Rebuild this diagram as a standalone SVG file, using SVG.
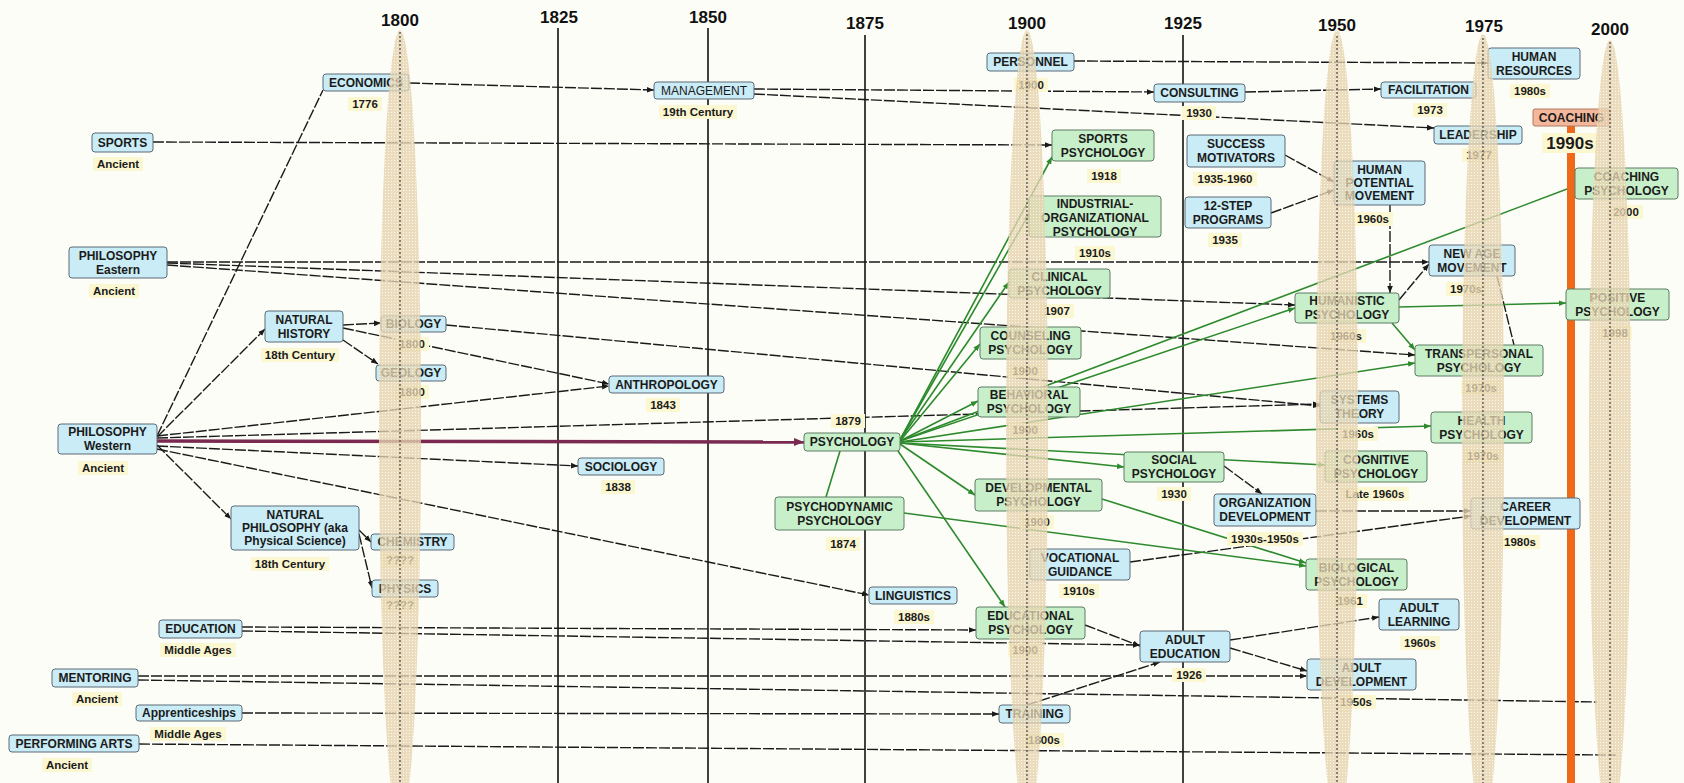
<svg xmlns="http://www.w3.org/2000/svg" width="1684" height="783" viewBox="0 0 1684 783">
<style>
.bg{fill:#fdfdf8}
.yr{font-family:"Liberation Sans",Arial,sans-serif;font-weight:bold;font-size:17px;fill:#111;text-anchor:middle}
.axis{stroke:#111;stroke-width:1.6}
.k{fill:none;stroke:#1a1a1a;stroke-width:1.4;stroke-dasharray:11 2}
.gr{fill:none;stroke:#2d8a2d;stroke-width:1.6}
.mr{fill:none;stroke:#7a2a50;stroke-width:3.5}
.b{fill:#c9ecf6;stroke:#5b6b78;stroke-width:1}
.g{fill:#c7efc9;stroke:#5c7c62;stroke-width:1}
.o{fill:#f3b79c;stroke:#b07a62;stroke-width:1}
.t{font-family:"Liberation Sans",Arial,sans-serif;font-weight:bold;font-size:12px;fill:#1b1b1b;text-anchor:middle}
.tn{font-weight:normal}
.dl{fill:#fbf7d0}
.dt{font-family:"Liberation Sans",Arial,sans-serif;font-weight:bold;font-size:11.5px;fill:#1b1b1b;text-anchor:middle}
.big{font-size:17px}
.band{fill:url(#dots);opacity:.78}
.bandline{stroke:#444;stroke-width:1.2;stroke-dasharray:2 2}
</style>
<defs>
<pattern id="dots" width="3" height="3" patternUnits="userSpaceOnUse">
<rect width="3" height="3" fill="#e6d3ae"/>
<rect x="1" y="1" width="1" height="1" fill="#fbf6ec"/>
</pattern>
<marker id="ak" viewBox="0 0 10 10" refX="10" refY="5" markerWidth="7" markerHeight="7" markerUnits="userSpaceOnUse" orient="auto"><path d="M0,1 L10,5 L0,9 z" fill="#1a1a1a"/></marker>
<marker id="ag" viewBox="0 0 10 10" refX="10" refY="5" markerWidth="7" markerHeight="7" markerUnits="userSpaceOnUse" orient="auto"><path d="M0,1 L10,5 L0,9 z" fill="#2d8a2d"/></marker>
<marker id="am" viewBox="0 0 10 10" refX="10" refY="5" markerWidth="10" markerHeight="10" markerUnits="userSpaceOnUse" orient="auto"><path d="M0,1 L10,5 L0,9 z" fill="#7a2a50"/></marker>
</defs>

<rect class="bg" width="1684" height="783"/>

<!-- time axis -->
<g id="axis">
<text class="yr" x="400" y="26">1800</text>
<text class="yr" x="559" y="23">1825</text>
<text class="yr" x="708" y="23">1850</text>
<text class="yr" x="865" y="29">1875</text>
<text class="yr" x="1027" y="29">1900</text>
<text class="yr" x="1183" y="29">1925</text>
<text class="yr" x="1337" y="31">1950</text>
<text class="yr" x="1484" y="32">1975</text>
<text class="yr" x="1610" y="35">2000</text>
<line class="axis" x1="558" y1="28" x2="558" y2="783"/>
<line class="axis" x1="708" y1="28" x2="708" y2="783"/>
<line class="axis" x1="865" y1="35" x2="865" y2="783"/>
<line class="axis" x1="1183" y1="35" x2="1183" y2="783"/>
</g>

<!-- connectors -->
<g id="connectors">
<path class="k" d="M157,436 L323,90"/>
<path class="k" d="M157,437 L265,329" marker-end="url(#ak)"/>
<path class="k" d="M157,445 L231,519" marker-end="url(#ak)"/>
<path class="k" d="M157,436 L609,386" marker-end="url(#ak)"/>
<path class="k" d="M157,438 L1320,404" marker-end="url(#ak)"/>
<path class="k" d="M157,446 L578,466" marker-end="url(#ak)"/>
<path class="k" d="M157,449 L869,595" marker-end="url(#ak)"/>
<path class="k" d="M167,262 L1429,262" marker-end="url(#ak)"/>
<path class="k" d="M167,263 L1295,305" marker-end="url(#ak)"/>
<path class="k" d="M167,265 L1415,355" marker-end="url(#ak)"/>
<path class="k" d="M153,142 L1052,145" marker-end="url(#ak)"/>
<path class="k" d="M409,83 L654,90" marker-end="url(#ak)"/>
<path class="k" d="M754,89 L1154,92" marker-end="url(#ak)"/>
<path class="k" d="M754,94 L1434,128" marker-end="url(#ak)"/>
<path class="k" d="M1245,92 L1381,89" marker-end="url(#ak)"/>
<path class="k" d="M1074,61 L1488,63" marker-end="url(#ak)"/>
<path class="k" d="M343,325 L381,323" marker-end="url(#ak)"/>
<path class="k" d="M343,340 L378,364" marker-end="url(#ak)"/>
<path class="k" d="M343,328 L609,384" marker-end="url(#ak)"/>
<path class="k" d="M446,325 L1320,406" marker-end="url(#ak)"/>
<path class="k" d="M359,530 L371,542" marker-end="url(#ak)"/>
<path class="k" d="M359,534 L372,588" marker-end="url(#ak)"/>
<path class="k" d="M242,627 L976,630" marker-end="url(#ak)"/>
<path class="k" d="M242,631 L1140,645" marker-end="url(#ak)"/>
<path class="k" d="M1085,625 L1140,646" marker-end="url(#ak)"/>
<path class="k" d="M138,676 L1307,676" marker-end="url(#ak)"/>
<path class="k" d="M138,680 L1597,702"/>
<path class="k" d="M242,713 L999,714" marker-end="url(#ak)"/>
<path class="k" d="M139,744 L1616,755"/>
<path class="k" d="M1027,705 L1160,662" marker-end="url(#ak)"/>
<path class="k" d="M1230,640 L1379,617" marker-end="url(#ak)"/>
<path class="k" d="M1230,648 L1307,671" marker-end="url(#ak)"/>
<path class="k" d="M1130,562 L1471,516" marker-end="url(#ak)"/>
<path class="k" d="M1316,511 L1471,511" marker-end="url(#ak)"/>
<path class="k" d="M1224,466 L1262,494" marker-end="url(#ak)"/>
<path class="k" d="M1285,155 L1334,182" marker-end="url(#ak)"/>
<path class="k" d="M1271,213 L1334,190" marker-end="url(#ak)"/>
<path class="k" d="M1390,205 L1390,293" marker-end="url(#ak)"/>
<path class="k" d="M1399,300 L1429,264" marker-end="url(#ak)"/>
<path class="k" d="M1497,276 L1514,345"/>
<path class="mr" d="M157,441 L804,442" marker-end="url(#am)"/>
<path class="gr" d="M900,440 L1052,157" marker-end="url(#ag)"/>
<path class="gr" d="M900,440 L1029,214" marker-end="url(#ag)"/>
<path class="gr" d="M900,440 L1009,282" marker-end="url(#ag)"/>
<path class="gr" d="M900,441 L980,344" marker-end="url(#ag)"/>
<path class="gr" d="M900,441 L978,401" marker-end="url(#ag)"/>
<path class="gr" d="M900,441 L1575,186" marker-end="url(#ag)"/>
<path class="gr" d="M900,441 L1295,308" marker-end="url(#ag)"/>
<path class="gr" d="M900,442 L1415,363" marker-end="url(#ag)"/>
<path class="gr" d="M900,442 L1431,426" marker-end="url(#ag)"/>
<path class="gr" d="M900,443 L1325,465" marker-end="url(#ag)"/>
<path class="gr" d="M900,443 L1124,467" marker-end="url(#ag)"/>
<path class="gr" d="M900,444 L975,495" marker-end="url(#ag)"/>
<path class="gr" d="M898,451 L1005,607" marker-end="url(#ag)"/>
<path class="gr" d="M840,451 L826,497"/>
<path class="gr" d="M904,513 L1306,566" marker-end="url(#ag)"/>
<path class="gr" d="M1102,499 L1306,563" marker-end="url(#ag)"/>
<path class="gr" d="M1399,307 L1566,303" marker-end="url(#ag)"/>
<path class="gr" d="M1392,323 L1415,350" marker-end="url(#ag)"/>
</g>

<!-- coaching emergence bar -->
<g id="coaching-bar">
<rect x="1567" y="126" width="8" height="8" fill="#ee6a1a"/>
<rect x="1567" y="152" width="8" height="631" fill="#ee6a1a"/>
</g>

<!-- nodes -->
<g id="n-economics"><rect class="b" x="323" y="74" width="86" height="17" rx="3"/><text class="t" x="366" y="86.8">ECONOMICS</text><rect class="dl" x="348" y="97" width="34" height="14"/><text class="dt" x="365" y="108">1776</text></g>
<g id="n-sports"><rect class="b" x="92" y="133" width="61" height="19" rx="3"/><text class="t" x="122.5" y="146.8">SPORTS</text><rect class="dl" x="93" y="157" width="50" height="14"/><text class="dt" x="118" y="168">Ancient</text></g>
<g id="n-philosophy-eastern"><rect class="b" x="69" y="247" width="98" height="31" rx="3"/><text class="t" x="118" y="259.8">PHILOSOPHY<tspan x="118" dy="14">Eastern</tspan></text><rect class="dl" x="89" y="284" width="50" height="14"/><text class="dt" x="114" y="295">Ancient</text></g>
<g id="n-natural-history"><rect class="b" x="265" y="311" width="78" height="31" rx="3"/><text class="t" x="304" y="323.8">NATURAL<tspan x="304" dy="14">HISTORY</tspan></text><rect class="dl" x="261" y="348" width="78" height="14"/><text class="dt" x="300" y="359">18th Century</text></g>
<g id="n-biology"><rect class="b" x="381" y="316" width="65" height="16" rx="3"/><text class="t" x="413.5" y="328.3">BIOLOGY</text><rect class="dl" x="395" y="337" width="34" height="14"/><text class="dt" x="412" y="348">1800</text></g>
<g id="n-geology"><rect class="b" x="376" y="365" width="70" height="16" rx="3"/><text class="t" x="411" y="377.3">GEOLOGY</text><rect class="dl" x="395" y="385" width="34" height="14"/><text class="dt" x="412" y="396">1800</text></g>
<g id="n-philosophy-western"><rect class="b" x="58" y="424" width="99" height="30" rx="3"/><text class="t" x="107.5" y="436.3">PHILOSOPHY<tspan x="107.5" dy="14">Western</tspan></text><rect class="dl" x="78" y="461" width="50" height="14"/><text class="dt" x="103" y="472">Ancient</text></g>
<g id="n-anthropology"><rect class="b" x="609" y="376" width="115" height="17" rx="3"/><text class="t" x="666.5" y="388.8">ANTHROPOLOGY</text><rect class="dl" x="646" y="398" width="34" height="14"/><text class="dt" x="663" y="409">1843</text></g>
<g id="n-sociology"><rect class="b" x="578" y="458" width="86" height="17" rx="3"/><text class="t" x="621" y="470.8">SOCIOLOGY</text><rect class="dl" x="601" y="480" width="34" height="14"/><text class="dt" x="618" y="491">1838</text></g>
<g id="n-natural-philosophy"><rect class="b" x="231" y="506" width="128" height="44" rx="3"/><text class="t" x="295" y="519.3">NATURAL<tspan x="295" dy="13">PHILOSOPHY (aka</tspan><tspan x="295" dy="13">Physical Science)</tspan></text><rect class="dl" x="251" y="557" width="78" height="14"/><text class="dt" x="290" y="568">18th Century</text></g>
<g id="n-chemistry"><rect class="b" x="371" y="534" width="83" height="16" rx="3"/><text class="t" x="412.5" y="546.3">CHEMISTRY</text><rect class="dl" x="382" y="553" width="36" height="14"/><text class="dt" x="400" y="564">????</text></g>
<g id="n-physics"><rect class="b" x="372" y="580" width="66" height="17" rx="3"/><text class="t" x="405" y="592.8">PHYSICS</text><rect class="dl" x="382" y="598" width="36" height="14"/><text class="dt" x="400" y="609">????</text></g>
<g id="n-education"><rect class="b" x="159" y="620" width="83" height="18" rx="3"/><text class="t" x="200.5" y="633.3">EDUCATION</text><rect class="dl" x="160" y="643" width="76" height="14"/><text class="dt" x="198" y="654">Middle Ages</text></g>
<g id="n-mentoring"><rect class="b" x="52" y="669" width="86" height="18" rx="3"/><text class="t" x="95" y="682.3">MENTORING</text><rect class="dl" x="72" y="692" width="50" height="14"/><text class="dt" x="97" y="703">Ancient</text></g>
<g id="n-apprenticeships"><rect class="b" x="136" y="705" width="106" height="16" rx="3"/><text class="t" x="189" y="717.3">Apprenticeships</text><rect class="dl" x="150" y="727" width="76" height="14"/><text class="dt" x="188" y="738">Middle Ages</text></g>
<g id="n-performing-arts"><rect class="b" x="9" y="735" width="130" height="17" rx="3"/><text class="t" x="74" y="747.8">PERFORMING ARTS</text><rect class="dl" x="42" y="758" width="50" height="14"/><text class="dt" x="67" y="769">Ancient</text></g>
<g id="n-management"><rect class="b" x="654" y="82" width="100" height="17" rx="3"/><text class="t tn" x="704" y="94.8">MANAGEMENT</text><rect class="dl" x="659" y="105" width="78" height="14"/><text class="dt" x="698" y="116">19th Century</text></g>
<g id="n-personnel"><rect class="b" x="987" y="53" width="87" height="18" rx="3"/><text class="t" x="1030.5" y="66.3">PERSONNEL</text><rect class="dl" x="1014" y="78" width="34" height="14"/><text class="dt" x="1031" y="89">1900</text></g>
<g id="n-consulting"><rect class="b" x="1154" y="84" width="91" height="18" rx="3"/><text class="t" x="1199.5" y="97.3">CONSULTING</text><rect class="dl" x="1182" y="106" width="34" height="14"/><text class="dt" x="1199" y="117">1930</text></g>
<g id="n-success-motivators"><rect class="b" x="1187" y="135" width="98" height="32" rx="3"/><text class="t" x="1236" y="148.3">SUCCESS<tspan x="1236" dy="14">MOTIVATORS</tspan></text><rect class="dl" x="1193" y="172" width="64" height="14"/><text class="dt" x="1225" y="183">1935-1960</text></g>
<g id="n-12-step"><rect class="b" x="1185" y="197" width="86" height="31" rx="3"/><text class="t" x="1228" y="209.8">12-STEP<tspan x="1228" dy="14">PROGRAMS</tspan></text><rect class="dl" x="1208" y="233" width="34" height="14"/><text class="dt" x="1225" y="244">1935</text></g>
<g id="n-human-resources"><rect class="b" x="1488" y="48" width="92" height="31" rx="3"/><text class="t" x="1534" y="60.8">HUMAN<tspan x="1534" dy="14">RESOURCES</tspan></text><rect class="dl" x="1510" y="84" width="40" height="14"/><text class="dt" x="1530" y="95">1980s</text></g>
<g id="n-facilitation"><rect class="b" x="1381" y="82" width="95" height="16" rx="3"/><text class="t" x="1428.5" y="94.3">FACILITATION</text><rect class="dl" x="1413" y="103" width="34" height="14"/><text class="dt" x="1430" y="114">1973</text></g>
<g id="n-leadership"><rect class="b" x="1434" y="126" width="88" height="18" rx="3"/><text class="t" x="1478" y="139.3">LEADERSHIP</text><rect class="dl" x="1462" y="148" width="34" height="14"/><text class="dt" x="1479" y="159">1977</text></g>
<g id="n-human-potential"><rect class="b" x="1334" y="161" width="91" height="44" rx="3"/><text class="t" x="1379.5" y="174.3">HUMAN<tspan x="1379.5" dy="13">POTENTIAL</tspan><tspan x="1379.5" dy="13">MOVEMENT</tspan></text><rect class="dl" x="1353" y="212" width="40" height="14"/><text class="dt" x="1373" y="223">1960s</text></g>
<g id="n-new-age"><rect class="b" x="1429" y="245" width="86" height="31" rx="3"/><text class="t" x="1472" y="257.8">NEW AGE<tspan x="1472" dy="14">MOVEMENT</tspan></text><rect class="dl" x="1446" y="282" width="40" height="14"/><text class="dt" x="1466" y="293">1970s</text></g>
<g id="n-systems-theory"><rect class="b" x="1320" y="391" width="79" height="32" rx="3"/><text class="t" x="1359.5" y="404.3">SYSTEMS<tspan x="1359.5" dy="14">THEORY</tspan></text><rect class="dl" x="1338" y="427" width="40" height="14"/><text class="dt" x="1358" y="438">1960s</text></g>
<g id="n-org-development"><rect class="b" x="1214" y="494" width="102" height="32" rx="3"/><text class="t" x="1265" y="507.3">ORGANIZATION<tspan x="1265" dy="14">DEVELOPMENT</tspan></text><rect class="dl" x="1227" y="532" width="76" height="14"/><text class="dt" x="1265" y="543">1930s-1950s</text></g>
<g id="n-career-development"><rect class="b" x="1471" y="498" width="109" height="31" rx="3"/><text class="t" x="1525.5" y="510.8">CAREER<tspan x="1525.5" dy="14">DEVELOPMENT</tspan></text><rect class="dl" x="1500" y="535" width="40" height="14"/><text class="dt" x="1520" y="546">1980s</text></g>
<g id="n-linguistics"><rect class="b" x="869" y="587" width="88" height="17" rx="3"/><text class="t" x="913" y="599.8">LINGUISTICS</text><rect class="dl" x="894" y="610" width="40" height="14"/><text class="dt" x="914" y="621">1880s</text></g>
<g id="n-vocational-guidance"><rect class="b" x="1030" y="549" width="100" height="31" rx="3"/><text class="t" x="1080" y="561.8">VOCATIONAL<tspan x="1080" dy="14">GUIDANCE</tspan></text><rect class="dl" x="1059" y="584" width="40" height="14"/><text class="dt" x="1079" y="595">1910s</text></g>
<g id="n-adult-education"><rect class="b" x="1140" y="631" width="90" height="31" rx="3"/><text class="t" x="1185" y="643.8">ADULT<tspan x="1185" dy="14">EDUCATION</tspan></text><rect class="dl" x="1172" y="668" width="34" height="14"/><text class="dt" x="1189" y="679">1926</text></g>
<g id="n-training"><rect class="b" x="999" y="705" width="71" height="18" rx="3"/><text class="t" x="1034.5" y="718.3">TRAINING</text><rect class="dl" x="1024" y="733" width="40" height="14"/><text class="dt" x="1044" y="744">1800s</text></g>
<g id="n-adult-learning"><rect class="b" x="1379" y="599" width="80" height="31" rx="3"/><text class="t" x="1419" y="611.8">ADULT<tspan x="1419" dy="14">LEARNING</tspan></text><rect class="dl" x="1400" y="636" width="40" height="14"/><text class="dt" x="1420" y="647">1960s</text></g>
<g id="n-adult-development"><rect class="b" x="1307" y="659" width="109" height="31" rx="3"/><text class="t" x="1361.5" y="671.8">ADULT<tspan x="1361.5" dy="14">DEVELOPMENT</tspan></text><rect class="dl" x="1336" y="695" width="40" height="14"/><text class="dt" x="1356" y="706">1950s</text></g>

<g id="n-sports-psychology"><rect class="g" x="1052" y="130" width="102" height="31" rx="3"/><text class="t" x="1103" y="142.8">SPORTS<tspan x="1103" dy="14">PSYCHOLOGY</tspan></text><rect class="dl" x="1087" y="169" width="34" height="14"/><text class="dt" x="1104" y="180">1918</text></g>
<g id="n-io-psychology"><rect class="g" x="1029" y="196" width="132" height="41" rx="3"/><text class="t" x="1095" y="207.5">INDUSTRIAL-<tspan x="1095" dy="14">ORGANIZATIONAL</tspan><tspan x="1095" dy="14">PSYCHOLOGY</tspan></text><rect class="dl" x="1075" y="246" width="40" height="14"/><text class="dt" x="1095" y="257">1910s</text></g>
<g id="n-clinical-psychology"><rect class="g" x="1009" y="269" width="101" height="29" rx="3"/><text class="t" x="1059.5" y="280.8">CLINICAL<tspan x="1059.5" dy="14">PSYCHOLOGY</tspan></text><rect class="dl" x="1040" y="304" width="34" height="14"/><text class="dt" x="1057" y="315">1907</text></g>
<g id="n-counseling-psychology"><rect class="g" x="980" y="327" width="101" height="32" rx="3"/><text class="t" x="1030.5" y="340.3">COUNSELING<tspan x="1030.5" dy="14">PSYCHOLOGY</tspan></text><rect class="dl" x="1008" y="364" width="34" height="14"/><text class="dt" x="1025" y="375">1900</text></g>
<g id="n-behavioral-psychology"><rect class="g" x="978" y="387" width="102" height="30" rx="3"/><text class="t" x="1029" y="399.3">BEHAVIORAL<tspan x="1029" dy="14">PSYCHOLOGY</tspan></text><rect class="dl" x="1008" y="423" width="34" height="14"/><text class="dt" x="1025" y="434">1900</text></g>
<g id="n-psychology"><rect class="g" x="804" y="433" width="96" height="18" rx="3"/><text class="t" x="852" y="446.3">PSYCHOLOGY</text><rect class="dl" x="831" y="414" width="34" height="14"/><text class="dt" x="848" y="425">1879</text></g>
<g id="n-social-psychology"><rect class="g" x="1124" y="452" width="100" height="30" rx="3"/><text class="t" x="1174" y="464.3">SOCIAL<tspan x="1174" dy="14">PSYCHOLOGY</tspan></text><rect class="dl" x="1157" y="487" width="34" height="14"/><text class="dt" x="1174" y="498">1930</text></g>
<g id="n-developmental-psychology"><rect class="g" x="975" y="479" width="127" height="32" rx="3"/><text class="t" x="1038.5" y="492.3">DEVELOPMENTAL<tspan x="1038.5" dy="14">PSYCHOLOGY</tspan></text><rect class="dl" x="1020" y="515" width="34" height="14"/><text class="dt" x="1037" y="526">1900</text></g>
<g id="n-psychodynamic-psychology"><rect class="g" x="775" y="497" width="129" height="33" rx="3"/><text class="t" x="839.5" y="510.8">PSYCHODYNAMIC<tspan x="839.5" dy="14">PSYCHOLOGY</tspan></text><rect class="dl" x="826" y="537" width="34" height="14"/><text class="dt" x="843" y="548">1874</text></g>
<g id="n-educational-psychology"><rect class="g" x="976" y="607" width="109" height="32" rx="3"/><text class="t" x="1030.5" y="620.3">EDUCATIONAL<tspan x="1030.5" dy="14">PSYCHOLOGY</tspan></text><rect class="dl" x="1008" y="643" width="34" height="14"/><text class="dt" x="1025" y="654">1900</text></g>
<g id="n-humanistic-psychology"><rect class="g" x="1295" y="293" width="104" height="30" rx="3"/><text class="t" x="1347" y="305.3">HUMANISTIC<tspan x="1347" dy="14">PSYCHOLOGY</tspan></text><rect class="dl" x="1326" y="329" width="40" height="14"/><text class="dt" x="1346" y="340">1960s</text></g>
<g id="n-transpersonal-psychology"><rect class="g" x="1415" y="345" width="128" height="31" rx="3"/><text class="t" x="1479" y="357.8">TRANSPERSONAL<tspan x="1479" dy="14">PSYCHOLOGY</tspan></text><rect class="dl" x="1461" y="381" width="40" height="14"/><text class="dt" x="1481" y="392">1970s</text></g>
<g id="n-health-psychology"><rect class="g" x="1431" y="412" width="101" height="31" rx="3"/><text class="t" x="1481.5" y="424.8">HEALTH<tspan x="1481.5" dy="14">PSYCHOLOGY</tspan></text><rect class="dl" x="1463" y="449" width="40" height="14"/><text class="dt" x="1483" y="460">1970s</text></g>
<g id="n-cognitive-psychology"><rect class="g" x="1325" y="451" width="102" height="31" rx="3"/><text class="t" x="1376" y="463.8">COGNITIVE<tspan x="1376" dy="14">PSYCHOLOGY</tspan></text><rect class="dl" x="1341" y="487" width="68" height="14"/><text class="dt" x="1375" y="498">Late 1960s</text></g>
<g id="n-biological-psychology"><rect class="g" x="1306" y="559" width="101" height="31" rx="3"/><text class="t" x="1356.5" y="571.8">BIOLOGICAL<tspan x="1356.5" dy="14">PSYCHOLOGY</tspan></text><rect class="dl" x="1333" y="594" width="34" height="14"/><text class="dt" x="1350" y="605">1961</text></g>
<g id="n-positive-psychology"><rect class="g" x="1566" y="289" width="103" height="31" rx="3"/><text class="t" x="1617.5" y="301.8">POSITIVE<tspan x="1617.5" dy="14">PSYCHOLOGY</tspan></text><rect class="dl" x="1598" y="326" width="34" height="14"/><text class="dt" x="1615" y="337">1998</text></g>
<g id="n-coaching-psychology"><rect class="g" x="1575" y="168" width="103" height="31" rx="3"/><text class="t" x="1626.5" y="180.8">COACHING<tspan x="1626.5" dy="14">PSYCHOLOGY</tspan></text><rect class="dl" x="1609" y="205" width="34" height="14"/><text class="dt" x="1626" y="216">2000</text></g>
<g id="n-coaching"><rect class="o" x="1533" y="109" width="77" height="17" rx="2"/><text class="t" x="1571.5" y="121.8">COACHING</text><rect class="dl" x="1542" y="133" width="56" height="20"/><text class="dt big" x="1570" y="149">1990s</text></g>

<!-- era bands drawn over the chart -->
<g id="era-bands">
<ellipse class="band" cx="400" cy="428" rx="21" ry="398"/>
<ellipse class="band" cx="1027" cy="428" rx="21" ry="398"/>
<ellipse class="band" cx="1337" cy="428" rx="21" ry="398"/>
<ellipse class="band" cx="1483" cy="430" rx="21" ry="396"/>
<ellipse class="band" cx="1610" cy="434" rx="21" ry="394"/>
<line class="bandline" x1="400" y1="32" x2="400" y2="783"/>
<line class="bandline" x1="1027" y1="34" x2="1027" y2="783"/>
<line class="bandline" x1="1337" y1="36" x2="1337" y2="783"/>
<line class="bandline" x1="1483" y1="38" x2="1483" y2="783"/>
<line class="bandline" x1="1610" y1="42" x2="1610" y2="783"/>
</g>
</svg>
